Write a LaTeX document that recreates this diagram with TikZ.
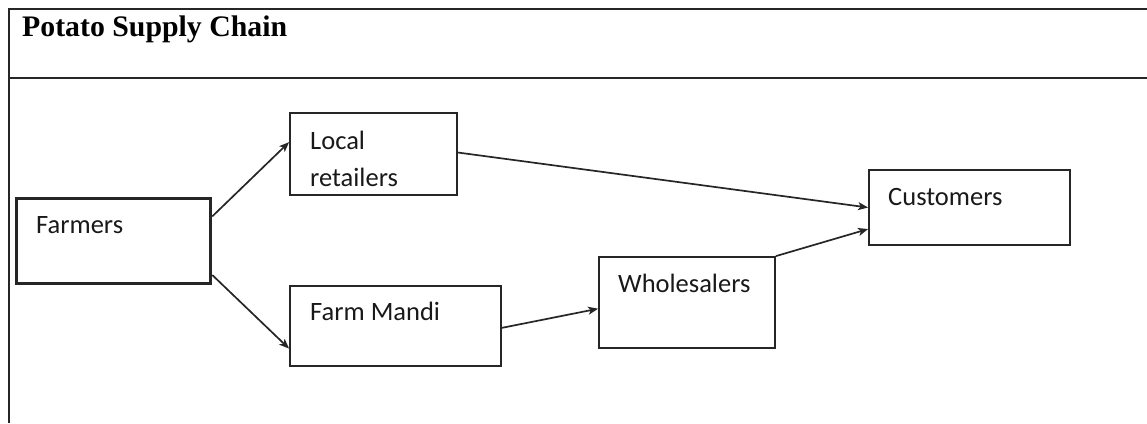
\documentclass[tikz,border=0pt]{standalone}
\usepackage{fontspec}
\usetikzlibrary{arrows.meta, calc}
\newfontfamily\carlito{Carlito}
\newfontfamily\timesfont{Liberation Serif}

\begin{document}
\begin{tikzpicture}[x=1pt, y=-1pt,
  stage/.style={draw=black!85, line width=1.8pt, inner sep=0pt},
  boxtext/.style={anchor=base west, inner sep=0pt, text=black!90, font=\carlito\fontsize{26.5}{37}\selectfont},
  flow/.style={-{Stealth[length=10pt,width=8pt,inset=2.5pt]}, draw=black!85, line width=1.7pt}]
\useasboundingbox (0,0) rectangle (1147,423);
% frame
\draw[line width=2pt, black!85] (1147,9) -- (9,9) -- (9,423) (9,78) -- (1147,78);
\node[anchor=base west, inner sep=0pt, font=\timesfont\bfseries\fontsize{29.8}{36}\selectfont] (title) at (22,36) {Potato Supply Chain};
% stages
\node[stage, line width=3.6pt, minimum width=194pt, minimum height=85pt] (farmers) at (113.5,241) {};
\node[stage, minimum width=167pt, minimum height=82pt] (local) at (373.5,154) {};
\node[stage, minimum width=211pt, minimum height=80pt] (mandi) at (395.5,326) {};
\node[stage, minimum width=176pt, minimum height=91pt] (wholesalers) at (687,302.5) {};
\node[stage, minimum width=201pt, minimum height=75pt] (customers) at (969.5,207.5) {};
% texts
\node[boxtext] (farmerstext) at (36,233) {Farmers};
\node[boxtext] (localtext) at (310,149) {Local};
\node[boxtext] (retailtext) at (310,186) {retailers};
\node[boxtext] (manditext) at (310,320) {Farm Mandi};
\node[boxtext] (wholetext) at (618,292) {Wholesalers};
\node[boxtext] (custtext) at (888,205) {Customers};
% flows
\draw[flow] (farmers.14) -- (local.172.5);
\draw[flow] (farmers.-19) -- (mandi.-168.8);
\draw[flow] (local.1) -- (customers.180);
\draw[flow] (mandi.-1) -- (wholesalers.-176.4);
\draw[flow] (wholesalers.north east) -- (customers.-168.5);
\end{tikzpicture}
\end{document}
